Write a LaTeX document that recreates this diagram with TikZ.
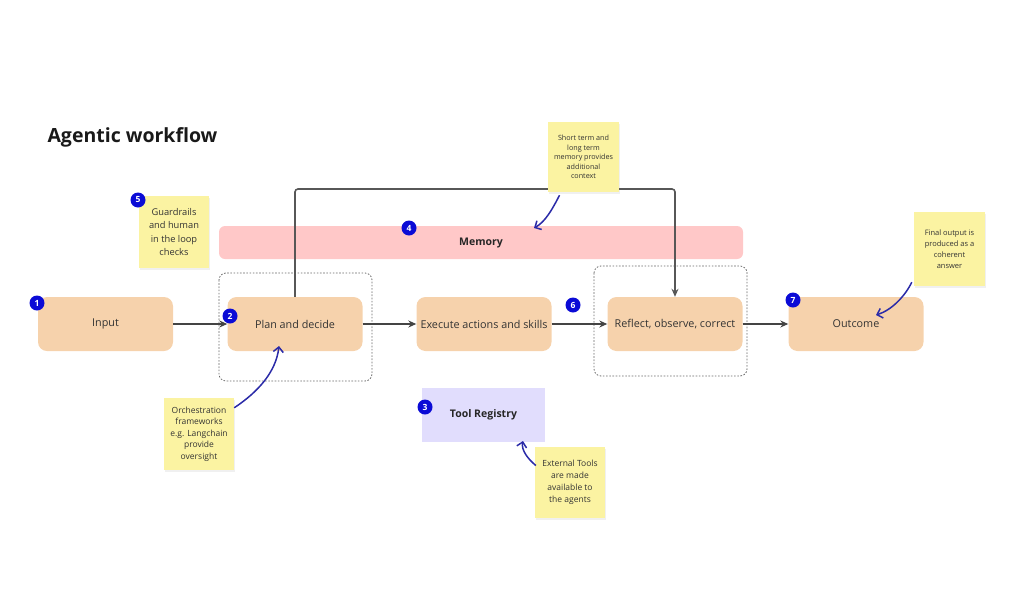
\documentclass[tikz,border=0pt]{standalone}
\usepackage{fontspec}
\setmainfont{Open Sans}
\usetikzlibrary{arrows.meta,shadows}
\definecolor{peach}{HTML}{F6D2AC}
\definecolor{pinkbar}{HTML}{FFC8C8}
\definecolor{lav}{HTML}{E1DDFD}
\definecolor{sticky}{HTML}{FBF3A2}
\definecolor{badgeblue}{HTML}{0B0BD6}
\definecolor{annot}{HTML}{2B2BA8}
\definecolor{linegray}{HTML}{444444}
\definecolor{txt}{HTML}{333333}
\begin{document}
\begin{tikzpicture}[x=1pt,y=-1pt,
  stepbox/.style={fill=peach, rounded corners=9pt, minimum width=135pt, minimum height=54pt, text=txt, font=\fontsize{10.8}{12}\selectfont},
  note/.style={fill=sticky, align=center, text=txt, inner sep=2pt, drop shadow={opacity=0.12, shadow xshift=1pt, shadow yshift=-1.5pt}},
  badge/.style={circle, fill=badgeblue, text=white, minimum size=15pt, inner sep=0pt, font=\fontsize{8.5}{8.5}\selectfont\bfseries},
  flow/.style={draw=linegray, line width=1.3pt, -{Stealth[length=8pt,width=7pt]}},
  anno/.style={draw=annot, line width=1.5pt, -{Straight Barb[length=5pt,width=10pt]}},
  dashbox/.style={draw=linegray!80, dashed, dash pattern=on 1.6pt off 1.6pt, rounded corners=7pt, line width=0.8pt}
]
\useasboundingbox (0,0) rectangle (1024,597);

% title
\node[anchor=west, font=\fontsize{19.5}{22}\selectfont\bfseries, text=black!90] (title) at (44,137) {Agentic workflow};

% dashed groups
\draw[dashbox] (219,273) rectangle (372,381);
\draw[dashbox] (594,266) rectangle (747,376);

% memory bar
\node[fill=pinkbar, rounded corners=6pt, minimum width=524pt, minimum height=33pt] (mem) at (481,242.5) {};
\node[font=\fontsize{10.5}{12}\selectfont\bfseries, text=black!85] (memtext) at (481,243) {Memory};

% main steps
\node[stepbox] (input) at (105.5,324) {Input};
\node[stepbox] (plan) at (295,324) {Plan and decide};
\node[stepbox] (exec) at (484,324) {Execute actions and skills};
\node[stepbox] (refl) at (675,324) {Reflect, observe, correct};
\node[stepbox] (out) at (856,324) {Outcome};

% tool registry
\node[fill=lav, minimum width=123pt, minimum height=54pt, font=\fontsize{10.5}{12}\selectfont\bfseries, text=black!85] (tool) at (483.5,415) {Tool Registry};

% flow arrows
\draw[flow] (input) -- (plan);
\draw[flow] (plan) -- (exec);
\draw[flow] (exec) -- (refl);
\draw[flow] (refl) -- (out);
\coordinate (lt) at (295,189);
\coordinate (rt) at (675,189);
\draw[flow, line width=1.6pt, draw=linegray!90, rounded corners=3pt] (plan.north) -- (lt) -- (rt) -- (refl.north);

% sticky notes
\node[note, minimum width=71pt, minimum height=70pt, font=\fontsize{7.2}{9.5}\selectfont] (memnote) at (583.5,157) {Short term and\\long term\\memory provides\\additional\\context};
\node[note, minimum width=70pt, minimum height=72pt, font=\fontsize{9.3}{13.5}\selectfont] (guard) at (174,232) {Guardrails\\and human\\in the loop\\checks};
\node[note, minimum width=71pt, minimum height=74pt, font=\fontsize{7.5}{11}\selectfont] (finalnote) at (949.5,249) {Final output is\\produced as a\\coherent\\answer};
\node[note, minimum width=70pt, minimum height=71pt, font=\fontsize{8.5}{12}\selectfont] (extnote) at (570,482.5) {External Tools\\are made\\available to\\the agents};
\node[note, minimum width=70pt, minimum height=72pt, font=\fontsize{8.5}{11.6}\selectfont] (orchnote) at (199,434) {Orchestration\\frameworks\\e.g. Langchain\\provide\\oversight};

% badges
\node[badge] (b1) at (37,303) {1};
\node[badge] (b2) at (230,316) {2};
\node[badge] (b3) at (425,407) {3};
\node[badge] (b4) at (409,228) {4};
\node[badge] (b5) at (138,200) {5};
\node[badge] (b6) at (573,305) {6};
\node[badge] (b7) at (793,300) {7};

% annotation arrows
\coordinate (oa) at (279,346);
\draw[anno] (orchnote.north east) ++(0,10) .. controls (258,392) and (276,372) .. (oa);
\coordinate (ma) at (534,228);
\draw[anno] (memnote.south) ++(-24,3) .. controls (552,210) and (545,222) .. (ma);
\coordinate (fa) at (876,315);
\draw[anno] (finalnote.south west) ++(-2,-4) .. controls (905,296) and (892,310) .. (fa);
\coordinate (ea) at (523,441);
\draw[anno] (extnote.west) ++(1,-17) .. controls (528,459) and (521,450) .. (ea);
\end{tikzpicture}
\end{document}
